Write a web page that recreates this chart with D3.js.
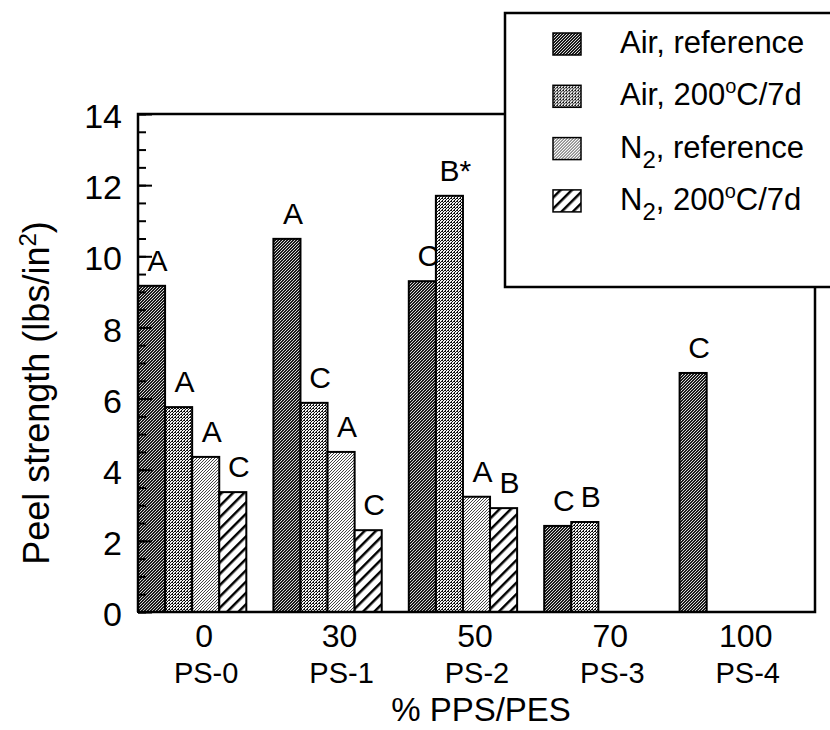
<!DOCTYPE html>
<html>
<head>
<meta charset="utf-8">
<script src="https://cdn.jsdelivr.net/npm/d3@7"></script>
<style>
  body { margin: 0; background: #fff; }
  svg { display: block; font-family: "Liberation Sans", Arial, Helvetica, sans-serif; }
</style>
</head>
<body>
<svg width="830" height="730"></svg>
<script>
// datos
const categorias = ["0", "30", "50", "70", "100"];
const muestras = ["PS-0", "PS-1", "PS-2", "PS-3", "PS-4"];
const series = ["airRef", "air200", "n2Ref", "n2200"];

const airRef = [9.17, 10.49, 9.3, 2.42, 6.72];
const air200 = [5.76, 5.88, 11.7, 2.53, null];
const n2Ref = [4.36, 4.5, 3.24, null, null];
const n2200 = [3.37, 2.3, 2.92, null, null];

const letrasAirRef = ["A", "A", "C", "C", "C"];
const letrasAir200 = ["A", "C", "B*", "B", null];
const letrasN2Ref = ["A", "A", "A", null, null];
const letrasN2200 = ["C", "C", "B", null, null];

const yTicks = [0, 2, 4, 6, 8, 10, 12, 14];

const valores = { airRef: airRef, air200: air200, n2Ref: n2Ref, n2200: n2200 };
const letras = { airRef: letrasAirRef, air200: letrasAir200, n2Ref: letrasN2Ref, n2200: letrasN2200 };

const svg = d3.select("svg");

const izq = 138, der = 815, arriba = 114, abajo = 612;

// patrones de relleno (tramas de puntos)
const defs = svg.append("defs");

function trama(id, fondo, puntos, color) {
  const p = defs.append("pattern")
    .attr("id", id)
    .attr("patternUnits", "userSpaceOnUse")
    .attr("width", 3)
    .attr("height", 3);
  p.append("rect").attr("width", 3).attr("height", 3).attr("fill", fondo)
    .attr("shape-rendering", "crispEdges");
  puntos.forEach(([px, py]) => {
    p.append("rect").attr("x", px).attr("y", py).attr("width", 1).attr("height", 1)
      .attr("fill", color).attr("shape-rendering", "crispEdges");
  });
}
trama("airRef", "#1a1a1a", [[0, 0], [2, 1], [1, 2]], "#d8d8d8");
trama("air200", "#f4f4f4", [[0, 0], [2, 1], [1, 2], [1, 0]], "#111");
trama("n2Ref", "#fafafa", [[0, 0], [2, 1], [1, 2]], "#444");

const rayas = defs.append("pattern")
  .attr("id", "n2200")
  .attr("patternUnits", "userSpaceOnUse")
  .attr("width", 8)
  .attr("height", 8)
  .attr("patternTransform", "rotate(45)");
rayas.append("rect").attr("width", 8).attr("height", 8).attr("fill", "#fff");
rayas.append("line")
  .attr("x1", 0).attr("y1", 0).attr("x2", 0).attr("y2", 8)
  .attr("stroke", "#000").attr("stroke-width", 5);

// escalas
const x = d3.scaleBand()
  .domain(categorias)
  .range([izq, der])
  .paddingInner(0.2)
  .paddingOuter(0.1)
  .align(0);

const xSub = d3.scaleBand()
  .domain(series)
  .range([0, x.bandwidth()]);

const y = d3.scaleLinear().domain([0, 14]).range([abajo, arriba]);

// barras
const datos = [];
categorias.forEach((c, i) => {
  series.forEach(s => {
    if (valores[s][i] != null) {
      datos.push({ cat: c, serie: s, valor: valores[s][i], letra: letras[s][i] });
    }
  });
});

svg.append("g")
  .selectAll("rect")
  .data(datos)
  .enter()
  .append("rect")
  .attr("x", d => x(d.cat) + xSub(d.serie))
  .attr("y", d => y(d.valor))
  .attr("width", xSub.bandwidth())
  .attr("height", d => y(0) - y(d.valor))
  .attr("fill", d => `url(#${d.serie})`)
  .attr("stroke", "#000")
  .attr("stroke-width", 2);

// letras sobre las barras
svg.append("g")
  .selectAll("text")
  .data(datos.filter(d => d.letra))
  .enter()
  .append("text")
  .attr("x", d => x(d.cat) + xSub(d.serie) + xSub.bandwidth() / 2 + 6)
  .attr("y", d => y(d.valor) - 15)
  .attr("text-anchor", "middle")
  .attr("font-size", 30)
  .text(d => d.letra);

// eje y: marcas menores y mayores hacia dentro
svg.append("g")
  .attr("transform", `translate(${izq},0)`)
  .call(d3.axisLeft(y).tickValues(d3.range(0, 14.01, 0.5)).tickSize(-8).tickFormat(""))
  .call(g => g.select(".domain").remove())
  .call(g => g.selectAll("line").attr("stroke-width", 2));

svg.append("g")
  .attr("transform", `translate(${izq},0)`)
  .call(d3.axisLeft(y).tickValues(yTicks).tickSizeInner(-14).tickSizeOuter(0).tickPadding(16))
  .call(g => g.select(".domain").remove())
  .call(g => g.selectAll("line").attr("stroke-width", 2))
  .call(g => g.selectAll("text")
    .attr("font-size", 34)
    .attr("font-family", "Liberation Sans, Arial, sans-serif")
    .attr("dy", "0.4em"));

// marco
const marco = svg.append("g").attr("stroke", "#000").attr("stroke-width", 2.5).attr("fill", "none");
marco.append("path").attr("d", `M${izq},${abajo}V${arriba}H520`);
marco.append("path").attr("d", `M${izq},${abajo}H${der}V270`);

// etiquetas del eje x
svg.append("g")
  .selectAll("text")
  .data(categorias)
  .enter()
  .append("text")
  .attr("x", d => x(d) + x.bandwidth() / 2 + 12)
  .attr("y", 647)
  .attr("text-anchor", "middle")
  .attr("font-size", 32)
  .text(d => d);

svg.append("g")
  .selectAll("text")
  .data(muestras)
  .enter()
  .append("text")
  .attr("x", (d, i) => x(categorias[i]) + x.bandwidth() / 2 + 14)
  .attr("y", 683)
  .attr("text-anchor", "middle")
  .attr("font-size", 29)
  .text(d => d);

// titulos de los ejes
svg.append("text")
  .attr("x", 481)
  .attr("y", 721)
  .attr("text-anchor", "middle")
  .attr("font-size", 33)
  .text("% PPS/PES");

const tituloY = svg.append("text")
  .attr("transform", "translate(49,393) rotate(-90)")
  .attr("text-anchor", "middle")
  .attr("font-size", 36);
tituloY.append("tspan").text("Peel strength (lbs/in");
tituloY.append("tspan").attr("dy", -13).attr("font-size", 24).text("2");
tituloY.append("tspan").attr("dy", 13).text(")");

// leyenda
const leyenda = svg.append("g").attr("transform", "translate(505,13)");
leyenda.append("rect")
  .attr("width", 400)
  .attr("height", 274)
  .attr("fill", "#fff")
  .attr("stroke", "#000")
  .attr("stroke-width", 2.5);

const filas = leyenda.selectAll(".fila")
  .data(series)
  .enter()
  .append("g")
  .attr("class", "fila")
  .attr("transform", (d, i) => `translate(0,${40 + i * 52.3})`);

filas.append("rect")
  .attr("x", 48)
  .attr("y", -20)
  .attr("width", 28)
  .attr("height", 22)
  .attr("fill", d => `url(#${d})`)
  .attr("stroke", "#000")
  .attr("stroke-width", 1.5);

filas.each(function (d) {
  const t = d3.select(this).append("text")
    .attr("x", 115)
    .attr("font-size", 31);
  if (d === "airRef") {
    t.text("Air, reference");
  } else if (d === "air200") {
    t.append("tspan").text("Air, 200");
    t.append("tspan").attr("dy", -12).attr("font-size", 20).text("o");
    t.append("tspan").attr("dy", 12).text("C/7d");
  } else if (d === "n2Ref") {
    t.append("tspan").text("N");
    t.append("tspan").attr("dy", 10).attr("font-size", 24).text("2");
    t.append("tspan").attr("dy", -10).text(", reference");
  } else {
    t.append("tspan").text("N");
    t.append("tspan").attr("dy", 10).attr("font-size", 24).text("2");
    t.append("tspan").attr("dy", -10).text(", 200");
    t.append("tspan").attr("dy", -12).attr("font-size", 20).text("o");
    t.append("tspan").attr("dy", 12).text("C/7d");
  }
});
</script>
</body>
</html>
